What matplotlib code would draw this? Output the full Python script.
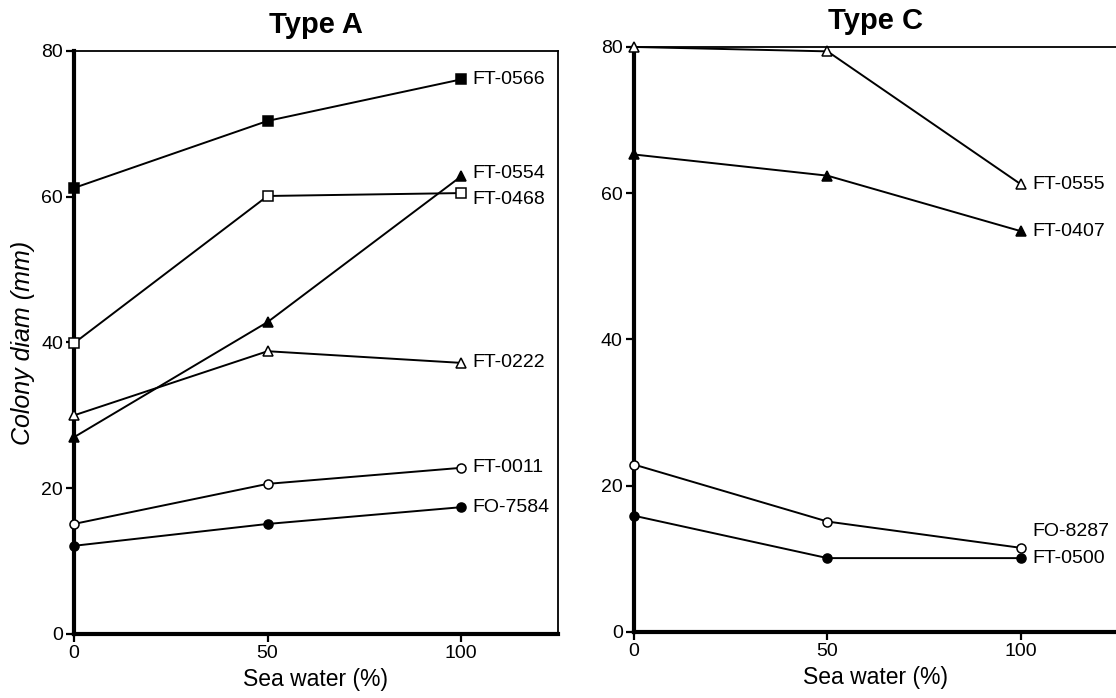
import matplotlib
matplotlib.use("Agg")
import matplotlib.pyplot as plt

plt.rcParams['font.family'] = ['Liberation Sans', 'DejaVu Sans']

sea_water = [0, 50, 100]

# Type A
ft0566 = [61.2, 70.4, 76.1]
ft0554 = [27.0, 42.8, 62.8]
ft0468 = [39.9, 60.1, 60.5]
ft0222 = [30.0, 38.8, 37.2]
ft0011 = [15.1, 20.6, 22.8]
fo7584 = [12.1, 15.1, 17.4]

# Type C
ft0555 = [80.0, 79.4, 61.2]
ft0407 = [65.3, 62.4, 54.8]
fo8287 = [22.9, 15.1, 11.5]
ft0500 = [15.9, 10.1, 10.1]

# name, values, marker, face colour, label nudge
type_a = [
    ("FT-0566", ft0566, 's', 'black', 0),
    ("FT-0554", ft0554, '^', 'black', 0.4),
    ("FT-0468", ft0468, 's', 'white', -0.9),
    ("FT-0222", ft0222, '^', 'white', 0),
    ("FT-0011", ft0011, 'o', 'white', 0),
    ("FO-7584", fo7584, 'o', 'black', 0),
]
type_c = [
    ("FT-0555", ft0555, '^', 'white', 0),
    ("FT-0407", ft0407, '^', 'black', 0),
    ("FO-8287", fo8287, 'o', 'white', 2.2),
    ("FT-0500", ft0500, 'o', 'black', 0),
]

fig = plt.figure(figsize=(11.16, 6.98), dpi=100)
ax1 = fig.add_axes([0.0663, 0.0917, 0.4337, 0.8353])
ax2 = fig.add_axes([0.568, 0.0946, 0.4337, 0.8381])


def draw(ax, series, title, ylabel=None):
    for name, vals, mk, fc, dy in series:
        ax.plot(sea_water, vals, color='black', lw=1.4, marker=mk, ms=6.5,
                mfc=fc, mec='black', mew=1.1, clip_on=False, zorder=3)
        ax.text(103, vals[-1] + dy, name, va='center', ha='left', fontsize=14)
    ax.set_xlim(0, 125)
    ax.set_ylim(0, 80)
    ax.set_xticks([0, 50, 100])
    ax.set_yticks([0, 20, 40, 60, 80])
    ax.tick_params(direction='out', length=6, width=1.6, labelsize=14, pad=2)
    ax.spines['left'].set_linewidth(3)
    ax.spines['bottom'].set_linewidth(3)
    ax.spines['top'].set_linewidth(1.3)
    ax.spines['right'].set_linewidth(1.3)
    ax.set_xlabel("Sea water (%)", fontsize=16.5, labelpad=4)
    ax.set_title(title, fontsize=21, fontweight='bold', pad=13)
    if ylabel:
        ax.set_ylabel(ylabel, fontsize=18, style='italic', labelpad=4)


draw(ax1, type_a, "Type A", "Colony diam (mm)")
draw(ax2, type_c, "Type C")

fig.savefig("out.png", dpi=100)
